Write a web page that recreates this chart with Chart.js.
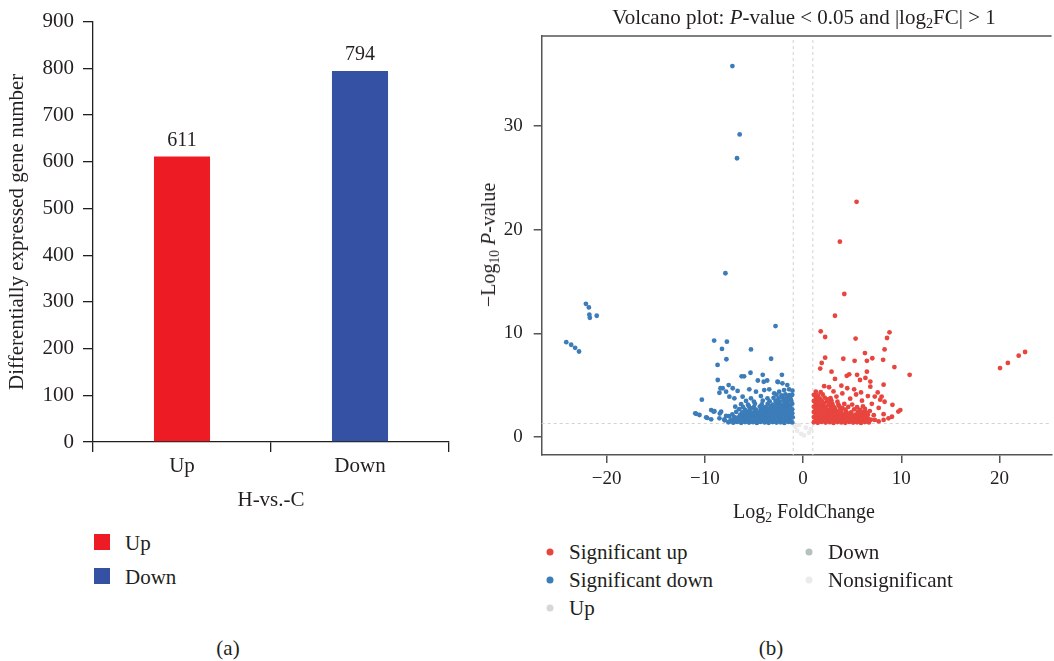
<!DOCTYPE html>
<html>
<head>
<meta charset="utf-8">
<script src="https://cdn.jsdelivr.net/npm/chart.js@4.4.0/dist/chart.umd.min.js"></script>
<style>
  html, body { margin: 0; padding: 0; background: #fff; }
  body { width: 1054px; height: 661px; position: relative; overflow: hidden;
         font-family: 'Liberation Serif', 'DejaVu Serif', serif; color: #231f20; }
  #barBox { position: absolute; left: 0; top: 0; width: 470px; height: 520px; }
  #volBox { position: absolute; left: 480px; top: 0; width: 574px; height: 530px; }
  .txt { position: absolute; white-space: nowrap; line-height: 1; font-size: 20px; }
  .big { font-size: 21px; }
  .center { transform: translate(-50%, -50%); }
  .rot { transform: translate(-50%, -50%) rotate(-90deg); }
  sub { font-size: 0.68em; vertical-align: -0.3em; line-height: 0; }
  .swatch { position: absolute; width: 16px; height: 16px; }
  .dot { position: absolute; width: 7px; height: 7px; border-radius: 50%; transform: translate(-50%, -50%); }
  .legText { position: absolute; white-space: nowrap; line-height: 1; font-size: 21px; transform: translateY(-50%); }
</style>
</head>
<body>
<div id="barBox"><canvas id="barChart"></canvas></div>
<div id="volBox"><canvas id="volcanoChart"></canvas></div>

<div class="txt big center" style="left:804px; top:17px;">Volcano plot: <i>P</i>-value &lt; 0.05 and |log<sub>2</sub>FC| &gt; 1</div>
<div class="txt center" style="left:804px; top:511px;">Log<sub>2</sub> FoldChange</div>
<div class="txt rot" style="left:488px; top:245px;">&minus;Log<sub>10</sub> <i>P</i>-value</div>
<div class="txt big center" style="left:228px; top:648px;">(a)</div>
<div class="txt big center" style="left:771px; top:648px;">(b)</div>
<div id="barLegend"></div>
<div id="volLegend"></div>

<script>
// ---------- panel (a): DEG counts ----------
const barCategories = ['Up', 'Down'];
const barCounts = [611, 794];
const barColors = ['#ed1c24', '#3451a3'];
const barYTicks = [0, 100, 200, 300, 400, 500, 600, 700, 800, 900];
const barGroupLabel = 'H-vs.-C';

// ---------- panel (b): volcano ----------
const volcanoXTicks = [-20, -10, 0, 10, 20];
const volcanoYTicks = [0, 10, 20, 30];
const fcCutoff = 1;    // |log2FC|
const pCutoff = 1.3;   // -log10(0.05)

const sigDownPoints = [
  [-7.19,35.8],[-6.45,29.2],[-6.72,26.9],[-7.9,15.8],[-2.8,10.7],
  [-9.05,9.3],[-7.75,9.2],[-8.25,8.5],[-5.3,8.45],[-7.8,7.5],[-3.25,7.55],[-8.7,6.95],
  [-24.1,9.15],[-23.6,8.9],[-23.2,8.6],[-22.8,8.25],
  [-22.1,12.85],[-21.8,12.5],[-21.75,11.8],[-21.7,11.5],[-21.0,11.7],
  [-10.3,3.6],[-8.4,4.7],
  [-6.25,5.85],[-6.0,5.85],[-5.35,6.2],[-4.1,6.0],[-2.15,6.0],[-2.55,5.3],[-3.65,5.45],[-4.6,5.45],
  [-8.68,5.5],[-4.0,5.33],[-2.6,5.33],[-2.1,5.18],[-1.6,5.01],[-7.57,5.01],[-8.18,4.7],[-7.16,4.7],
  [-8.51,4.27],[-7.83,4.37],[-6.66,4.44],[-5.47,4.6],[-4.79,4.37],[-3.95,4.53],[-3.44,4.6],[-2.94,4.21],
  [-2.43,4.37],[-1.93,4.53],[-1.42,4.6],[-1.08,4.47],
  [-7.5,3.89],[-6.99,3.73],[-6.15,3.89],[-5.3,3.73],[-4.29,3.95],[-3.62,3.73],
  [-9.35,2.6],[-9.09,2.44],[-10.97,2.28],[-10.54,2.12],[-9.86,1.9],[-9.35,1.7],[-8.51,1.8],[-8.0,1.7],
  [-7.5,1.48],[-8.34,2.44],[-7.83,2.03],[-10.87,2.23],[-9.76,1.84],[-9.02,2.49],[-8.47,2.26],[-7.99,1.61],[-7.54,2.0],
  [-7.6,1.42],[-7.1,1.38],[-6.7,1.45],[-6.3,1.37],[-5.9,1.44],[-5.5,1.39],[-5.1,1.43],[-4.7,1.36],[-4.3,1.45],
  [-3.9,1.4],[-3.5,1.37],[-3.1,1.44],[-2.7,1.39],[-2.3,1.42],[-1.9,1.36],[-1.5,1.45],[-1.1,1.4],
  [-7.3,1.68],[-6.9,1.62],[-6.5,1.7],[-6.1,1.64],[-5.7,1.66],[-5.3,1.61],[-4.9,1.69],[-4.5,1.63],[-4.1,1.67],
  [-3.7,1.62],[-3.3,1.7],[-2.9,1.64],[-2.5,1.66],[-2.1,1.61],[-1.7,1.69],[-1.3,1.65],
  [-7.0,1.92],[-6.6,1.88],[-6.2,1.95],[-5.8,1.89],[-5.4,1.93],[-5.0,1.87],[-4.6,1.94],[-4.2,1.9],[-3.8,1.86],
  [-3.4,1.93],[-3.0,1.88],[-2.6,1.95],[-2.2,1.9],[-1.8,1.87],[-1.4,1.94],[-1.05,1.9],
  [-7.2,2.18],[-6.4,2.12],[-6.0,2.2],[-5.6,2.14],[-5.2,2.17],[-4.8,2.11],[-4.4,2.19],[-4.0,2.13],[-3.6,2.16],
  [-3.2,2.1],[-2.8,2.18],[-2.4,2.14],[-2.0,2.2],[-1.6,2.12],[-1.2,2.17],
  [-6.8,2.42],[-6.2,2.37],[-5.7,2.44],[-5.3,2.38],[-4.9,2.41],[-4.5,2.36],[-4.1,2.44],[-3.7,2.39],[-3.3,2.42],
  [-2.9,2.37],[-2.5,2.45],[-2.1,2.4],[-1.7,2.36],[-1.3,2.43],
  [-6.5,2.68],[-5.9,2.62],[-5.4,2.7],[-4.8,2.64],[-4.3,2.67],[-3.9,2.61],[-3.5,2.69],[-3.1,2.63],[-2.7,2.66],
  [-2.3,2.62],[-1.9,2.7],[-1.5,2.64],[-1.1,2.67],
  [-6.9,2.92],[-6.1,2.88],[-5.5,2.95],[-5.0,2.87],[-4.4,2.93],[-3.8,2.89],[-3.3,2.94],[-2.9,2.86],[-2.5,2.92],
  [-2.1,2.88],[-1.7,2.95],[-1.3,2.9],
  [-6.3,3.17],[-5.6,3.12],[-4.9,3.2],[-4.2,3.14],[-3.6,3.18],[-3.1,3.11],[-2.7,3.19],[-2.3,3.13],[-1.9,3.17],
  [-1.5,3.12],[-1.1,3.2],
  [-5.8,3.48],[-5.0,3.42],[-4.1,3.5],[-3.4,3.44],[-2.8,3.47],[-2.4,3.41],[-2.0,3.49],[-1.6,3.43],[-1.2,3.46],
  [-3.0,3.78],[-2.5,3.72],[-2.1,3.8],[-1.7,3.74],[-1.3,3.77],
  [-2.7,4.08],[-2.2,4.02],[-1.8,4.1],[-1.4,4.04],[-1.1,4.07],
  // in-between fill of the dense lower block
  [-6.9,1.52],[-6.1,1.5],[-5.3,1.53],[-4.5,1.5],[-3.7,1.52],[-2.9,1.49],[-2.1,1.53],[-1.3,1.51],
  [-6.4,1.79],[-5.6,1.8],[-4.8,1.78],[-4.0,1.81],[-3.2,1.79],[-2.4,1.8],[-1.6,1.78],
  [-5.9,2.3],[-5.0,2.28],[-4.2,2.31],[-3.4,2.29],[-2.6,2.3],[-1.8,2.29],[-1.1,2.3],
  [-5.1,2.78],[-4.1,2.8],[-3.2,2.77],[-2.2,2.79],[-1.4,2.8],
  [-2.5,3.3],[-1.8,3.32],[-1.25,3.6],[-1.9,3.62],[-1.55,3.92]
];

const sigUpPoints = [
  [5.45,22.7],[3.75,18.85],[4.2,13.8],[3.25,11.7],[1.8,10.2],[2.25,9.65],[5.35,9.5],[8.8,10.1],[8.55,9.55],
  [6.3,8.1],[8.3,8.45],[2.25,7.65],[4.1,7.55],[5.25,7.35],[6.5,7.35],[7.05,7.6],[8.15,7.45],[1.9,7.15],
  [1.75,6.6],[9.3,6.75],[2.9,6.3],[10.85,6.0],[4.45,5.9],[4.7,6.05],[5.5,6.0],[6.5,6.3],[6.35,5.7],[3.25,5.6],
  [5.8,5.5],[6.85,5.35],[8.2,5.05],[2.15,4.9],[2.65,4.8],[3.9,4.95],[4.5,4.7],[5.2,4.6],[6.85,4.85],[7.6,4.3],
  [7.3,3.9],[8.0,3.9],[8.3,3.4],[7.85,3.6],[9.1,3.1],[9.9,2.6],[9.7,2.45],[7.7,2.8],[8.2,2.2],[8.7,1.8],
  [9.05,1.95],[8.2,1.65],[7.7,1.5],[7.3,1.65],
  [20.05,6.65],[20.85,7.15],[21.95,7.85],[22.6,8.2],
  [3.4,3.9],[4.0,4.2],[4.8,3.7],[5.4,4.1],[6.0,3.5],[6.6,3.95],[3.1,4.4],[5.9,4.3],[7.0,3.2],[6.8,2.5],[7.2,2.1],
  [1.1,1.42],[1.5,1.37],[1.9,1.45],[2.3,1.39],[2.7,1.43],[3.1,1.36],[3.5,1.44],[3.9,1.4],[4.3,1.37],[4.7,1.45],
  [5.1,1.39],[5.5,1.42],[5.9,1.36],[6.3,1.44],[6.7,1.4],
  [1.3,1.67],[1.7,1.62],[2.1,1.7],[2.5,1.64],[2.9,1.68],[3.3,1.61],[3.7,1.69],[4.1,1.63],[4.5,1.66],[4.9,1.62],
  [5.3,1.7],[5.7,1.64],[6.1,1.67],[6.5,1.61],[6.9,1.66],
  [1.1,1.92],[1.5,1.87],[1.9,1.95],[2.3,1.89],[2.7,1.93],[3.1,1.88],[3.5,1.94],[3.9,1.9],[4.3,1.86],[4.7,1.93],
  [5.1,1.89],[5.5,1.95],[5.9,1.9],[6.3,1.87],
  [1.3,2.17],[1.7,2.12],[2.1,2.2],[2.5,2.14],[2.9,2.18],[3.3,2.11],[3.7,2.19],[4.1,2.13],[4.5,2.16],[5.0,2.1],
  [5.4,2.18],[5.8,2.13],[6.2,2.2],[6.6,2.14],
  [1.1,2.42],[1.5,2.37],[1.9,2.44],[2.3,2.38],[2.7,2.43],[3.1,2.36],[3.5,2.44],[3.9,2.39],[4.4,2.42],[4.9,2.37],
  [5.6,2.45],[6.0,2.4],[6.4,2.36],
  [1.3,2.67],[1.7,2.62],[2.1,2.7],[2.5,2.63],[2.9,2.68],[3.3,2.61],[3.8,2.69],[4.3,2.64],[5.2,2.67],[5.8,2.62],[6.3,2.7],
  [1.1,2.92],[1.5,2.87],[1.9,2.95],[2.3,2.89],[2.8,2.93],[3.2,2.86],[3.7,2.94],[4.6,2.9],[5.5,2.88],[6.1,2.95],
  [1.3,3.18],[1.7,3.12],[2.1,3.2],[2.6,3.14],[3.0,3.17],[3.6,3.11],[4.2,3.19],[5.0,3.13],
  [1.1,3.47],[1.5,3.42],[1.9,3.5],[2.4,3.44],[2.9,3.48],[3.5,3.41],
  [1.3,3.77],[1.7,3.72],[2.2,3.8],[2.8,3.74],
  [1.1,4.07],[1.5,4.02],[2.0,4.1],
  [1.3,4.37],[1.8,4.32],
  // in-between fill of the dense lower block
  [1.5,1.52],[2.3,1.5],[3.1,1.53],[3.9,1.5],[4.7,1.52],[5.5,1.49],[6.3,1.53],
  [1.9,1.79],[2.7,1.8],[3.5,1.78],[4.3,1.81],[5.1,1.79],[5.9,1.8],[6.6,1.78],
  [1.5,2.29],[2.3,2.3],[3.1,2.28],[3.9,2.31],[4.8,2.29],[5.6,2.3],
  [1.5,2.78],[2.3,2.8],[3.1,2.77],[4.0,2.79],
  [1.3,3.32],[2.0,3.3],[2.7,3.33],[1.6,3.6],[2.5,3.62]
];

const upPoints = [];
const downPoints = [];
const nonsigPoints = [
  [-0.6,0.6],[0.3,0.9],[-0.2,0.3],[0.6,0.4],[-0.8,1.0],[0.1,0.15],[-0.4,1.15],[0.8,0.75]
];

const volcanoGroups = [
  { label: 'Significant up',   points: sigUpPoints,   color: '#e8453f' },
  { label: 'Significant down', points: sigDownPoints, color: '#3b7cb9' },
  { label: 'Up',               points: upPoints,      color: '#d7d7d7' },
  { label: 'Down',             points: downPoints,    color: '#b5c1bd' },
  { label: 'Nonsignificant',   points: nonsigPoints,  color: '#ebebeb' }
];

Chart.defaults.font.family = "'Liberation Serif', 'DejaVu Serif', serif";
Chart.defaults.color = '#231f20';
Chart.defaults.animation = false;

const axisInk = '#231f20';

// value labels above bars
const barValueLabels = {
  id: 'barValueLabels',
  afterDatasetsDraw(chart) {
    const ctx = chart.ctx;
    const meta = chart.getDatasetMeta(0);
    ctx.save();
    ctx.font = "20px 'Liberation Serif', serif";
    ctx.fillStyle = axisInk;
    ctx.textAlign = 'center';
    ctx.textBaseline = 'middle';
    meta.data.forEach(function(bar, i) {
      ctx.fillText(String(barCounts[i]), bar.x, bar.y - 16);
    });
    ctx.restore();
  }
};

new Chart(document.getElementById('barChart'), {
  type: 'bar',
  data: {
    labels: barCategories,
    datasets: [{
      data: barCounts,
      backgroundColor: barColors,
      barPercentage: 0.315,
      categoryPercentage: 1
    }]
  },
  options: {
    responsive: true,
    maintainAspectRatio: false,
    devicePixelRatio: 1,
    layout: { padding: { top: 16, right: 21, left: 0, bottom: 0 } },
    plugins: { legend: { display: false }, tooltip: { enabled: false } },
    scales: {
      x: {
        grid: { display: true, drawOnChartArea: false, drawTicks: true, tickLength: 10, offset: true, color: axisInk, lineWidth: 1.3 },
        border: { display: true, color: axisInk, width: 1.3 },
        ticks: { font: { size: 21 }, padding: 2 },
        title: { display: true, text: barGroupLabel, font: { size: 21 }, padding: { top: 0, bottom: 7 } },
        afterFit: function(scale) { scale.height = 78; }
      },
      y: {
        min: 0,
        max: 900,
        afterBuildTicks: function(scale) { scale.ticks = barYTicks.map(v => ({ value: v })); },
        grid: { display: true, drawOnChartArea: false, drawTicks: true, tickLength: 10, color: axisInk, lineWidth: 1.3 },
        border: { display: true, color: axisInk, width: 1.3 },
        ticks: { font: { size: 21 }, padding: 9 },
        title: { display: true, text: 'Differentially expressed gene number', font: { size: 21 }, padding: { top: 5, bottom: 0 } },
        afterFit: function(scale) { scale.width = 93; }
      }
    }
  },
  plugins: [barValueLabels]
});

// cut-off lines and top frame for the volcano plot
const volcanoGuides = {
  id: 'volcanoGuides',
  beforeDatasetsDraw(chart) {
    const { ctx, chartArea: a, scales: { x, y } } = chart;
    ctx.save();
    ctx.strokeStyle = '#cfd3d6';
    ctx.lineWidth = 1;
    ctx.setLineDash([3, 3]);
    [-fcCutoff, fcCutoff].forEach(function(v) {
      const px = x.getPixelForValue(v);
      ctx.beginPath(); ctx.moveTo(px, a.top + 4); ctx.lineTo(px, a.bottom); ctx.stroke();
    });
    const py = y.getPixelForValue(pCutoff);
    ctx.beginPath(); ctx.moveTo(a.left, py); ctx.lineTo(a.right, py); ctx.stroke();
    ctx.restore();
  },
  afterDraw(chart) {
    const { ctx, chartArea: a } = chart;
    ctx.save();
    ctx.strokeStyle = '#555';
    ctx.lineWidth = 1.5;
    ctx.beginPath(); ctx.moveTo(a.left, a.top); ctx.lineTo(a.right, a.top); ctx.stroke();
    ctx.restore();
  }
};

const minusFmt = v => (v < 0 ? '\u2212' + Math.abs(v) : String(v));

// draw order: faint groups first, significant ones on top
const drawOrder = [4, 3, 2, 1, 0];
const volcano = new Chart(document.getElementById('volcanoChart'), {
  type: 'scatter',
  data: {
    datasets: drawOrder.map(function(i) {
      const g = volcanoGroups[i];
      return {
        label: g.label,
        data: g.points.map(p => ({ x: p[0], y: p[1] })),
        backgroundColor: g.color,
        borderColor: g.color,
        borderWidth: 0,
        pointRadius: 2.4,
        pointHoverRadius: 2.4
      };
    })
  },
  options: {
    responsive: true,
    maintainAspectRatio: false,
    devicePixelRatio: 1,
    layout: { padding: { top: 36, right: 0, left: 0, bottom: 0 } },
    plugins: { legend: { display: false }, tooltip: { enabled: false } },
    scales: {
      x: {
        type: 'linear',
        min: -26.6,
        max: 25.3,
        afterBuildTicks: function(scale) { scale.ticks = volcanoXTicks.map(v => ({ value: v })); },
        grid: { display: true, drawOnChartArea: false, drawTicks: true, tickLength: 8, color: '#555', lineWidth: 1.5 },
        border: { display: true, color: '#555', width: 1.5 },
        ticks: { font: { size: 19 }, padding: 5, callback: minusFmt },
        afterFit: function(scale) { scale.height = 75; }
      },
      y: {
        type: 'linear',
        min: -1.74,
        max: 38.7,
        afterBuildTicks: function(scale) { scale.ticks = volcanoYTicks.map(v => ({ value: v })); },
        grid: { display: true, drawOnChartArea: false, drawTicks: true, tickLength: 8, color: '#555', lineWidth: 1.5 },
        border: { display: true, color: '#555', width: 1.5 },
        ticks: { font: { size: 19 }, padding: 11, callback: minusFmt },
        afterFit: function(scale) { scale.width = 61.7; }
      }
    }
  },
  plugins: [volcanoGuides]
});

// legend for panel (a)
const barLegend = document.getElementById('barLegend');
barCategories.forEach(function(name, i) {
  const top = 534 + i * 34;
  barLegend.insertAdjacentHTML('beforeend',
    '<div class="swatch" style="left:94px; top:' + top + 'px; background:' + barColors[i] + '"></div>' +
    '<div class="legText" style="left:125px; top:' + (top + 9) + 'px">' + name + '</div>');
});

// legend for panel (b), column-major, three rows
const volLegend = document.getElementById('volLegend');
volcanoGroups.forEach(function(g, i) {
  const col = Math.floor(i / 3), row = i % 3;
  const dotX = 550 + col * 259, cy = 552 + row * 28;
  volLegend.insertAdjacentHTML('beforeend',
    '<div class="dot" style="left:' + dotX + 'px; top:' + cy + 'px; background:' + g.color + '"></div>' +
    '<div class="legText" style="left:' + (dotX + 19) + 'px; top:' + cy + 'px">' + g.label + '</div>');
});
</script>
</body>
</html>
